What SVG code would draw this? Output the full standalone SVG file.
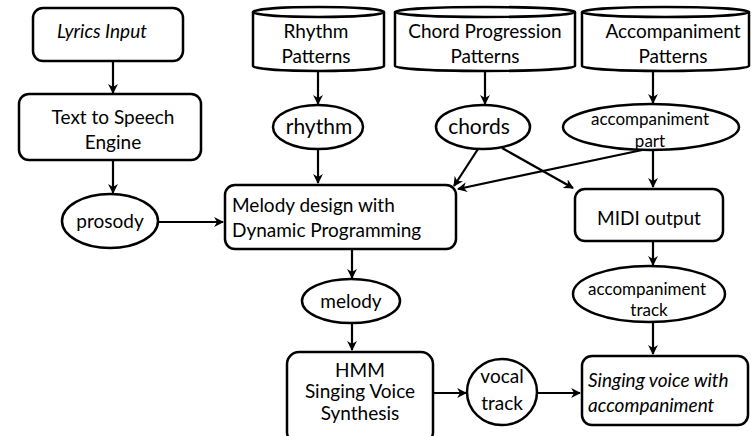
<svg xmlns="http://www.w3.org/2000/svg" width="751" height="436" viewBox="0 0 751 436">
<defs>
<style>
.box{fill:#fff;stroke:#000;stroke-width:2.5}
.t{font-family:Lato,"Open Sans",sans-serif;font-size:19px;fill:#000;text-anchor:middle}
.s{font-size:17px}
.b{font-size:21px}
.l{text-anchor:start}
.i{font-style:italic}
.c line{stroke:#000;stroke-width:2.2;marker-end:url(#ah)}
</style>
<marker id="ah" viewBox="0 0 10 10" refX="9" refY="5" markerWidth="4.5" markerHeight="4.5" orient="auto" markerUnits="strokeWidth">
<path d="M0,0 L10,5 L0,10 L3,5 Z" fill="#000"/>
</marker>
</defs>
<rect width="751" height="436" fill="#fff"/>
<g class="c">
<line x1="113" y1="62" x2="113" y2="93"/>
<line x1="113" y1="161" x2="113" y2="193"/>
<line x1="158" y1="222" x2="223" y2="222"/>
<line x1="318" y1="72" x2="318" y2="104"/>
<line x1="318" y1="150" x2="318" y2="183"/>
<line x1="485" y1="72" x2="485" y2="104"/>
<line x1="478" y1="149" x2="454" y2="186"/>
<line x1="502" y1="148" x2="573" y2="188"/>
<line x1="653" y1="72" x2="653" y2="103"/>
<line x1="647" y1="149" x2="458" y2="189"/>
<line x1="653" y1="150" x2="653" y2="187"/>
<line x1="352" y1="250" x2="352" y2="278"/>
<line x1="352" y1="323" x2="352" y2="350"/>
<line x1="653" y1="242" x2="653" y2="265"/>
<line x1="653" y1="322" x2="653" y2="354"/>
<line x1="433" y1="393" x2="466" y2="393"/>
<line x1="538" y1="393" x2="580" y2="393"/>
</g>
<g id="lyrics">
<rect class="box" x="33" y="8" width="150" height="53" rx="10"/>
<text class="t i" x="102" y="38">Lyrics Input</text>
</g>
<g id="tts">
<rect class="box" x="19" y="94" width="182" height="66" rx="10"/>
<text class="t" x="113" y="124">Text to Speech</text>
<text class="t" x="113" y="149">Engine</text>
</g>
<g id="prosody">
<ellipse class="box" cx="110" cy="221" rx="48" ry="27"/>
<text class="t" x="110" y="228">prosody</text>
</g>
<g id="rhythmPatterns">
<path class="box" d="M253,12 L253,66 A65.5,5 0 0 0 384,66 L384,12"/>
<ellipse class="box" cx="318.5" cy="12" rx="65.5" ry="5"/>
<text class="t" x="316" y="38">Rhythm</text>
<text class="t" x="316" y="63">Patterns</text>
</g>
<g id="chordPatterns">
<path class="box" d="M395,12 L395,66 A90,5 0 0 0 575,66 L575,12"/>
<ellipse class="box" cx="485" cy="12" rx="90" ry="5"/>
<text class="t" x="485" y="38">Chord Progression</text>
<text class="t" x="485" y="63">Patterns</text>
</g>
<g id="accPatterns">
<path class="box" d="M582,12 L582,66 A83.5,5 0 0 0 749,66 L749,12"/>
<ellipse class="box" cx="665.5" cy="12" rx="83.5" ry="5"/>
<text class="t" x="673" y="38">Accompaniment</text>
<text class="t" x="673" y="63">Patterns</text>
</g>
<g id="rhythm">
<ellipse class="box" cx="318" cy="127" rx="45" ry="22"/>
<text class="t b" x="319" y="134">rhythm</text>
</g>
<g id="chords">
<ellipse class="box" cx="483" cy="127" rx="47" ry="22"/>
<text class="t b" x="479" y="134">chords</text>
</g>
<g id="accPart">
<ellipse class="box" cx="651" cy="127" rx="88" ry="23"/>
<text class="t s" x="650" y="125">accompaniment</text>
<text class="t s" x="650" y="147">part</text>
</g>
<g id="melodyDesign">
<rect class="box" x="225" y="185" width="231" height="64" rx="10"/>
<text class="t l" x="232" y="212">Melody design with</text>
<text class="t l" x="232" y="237">Dynamic Programming</text>
</g>
<g id="midi">
<rect class="box" x="575" y="189" width="148" height="52" rx="10"/>
<text class="t" x="649" y="225">MIDI output</text>
</g>
<g id="melody">
<ellipse class="box" cx="351" cy="301" rx="49" ry="22"/>
<text class="t" x="351" y="308">melody</text>
</g>
<g id="accTrack">
<ellipse class="box" cx="649" cy="294" rx="76" ry="28"/>
<text class="t s" x="647" y="295">accompaniment</text>
<text class="t s" x="649" y="316">track</text>
</g>
<g id="hmm">
<rect class="box" x="287" y="352" width="146" height="92" rx="12"/>
<text class="t" x="360" y="377">HMM</text>
<text class="t" x="360" y="398">Singing Voice</text>
<text class="t" x="360" y="420">Synthesis</text>
</g>
<g id="vocal">
<ellipse class="box" cx="502" cy="392" rx="35" ry="33"/>
<text class="t" x="502" y="383">vocal</text>
<text class="t" x="502" y="410">track</text>
</g>
<g id="singing">
<rect class="box" x="582" y="356" width="166" height="69" rx="10"/>
<text class="t l i" x="588" y="387">Singing voice with</text>
<text class="t l i" x="588" y="412">accompaniment</text>
</g>
</svg>
